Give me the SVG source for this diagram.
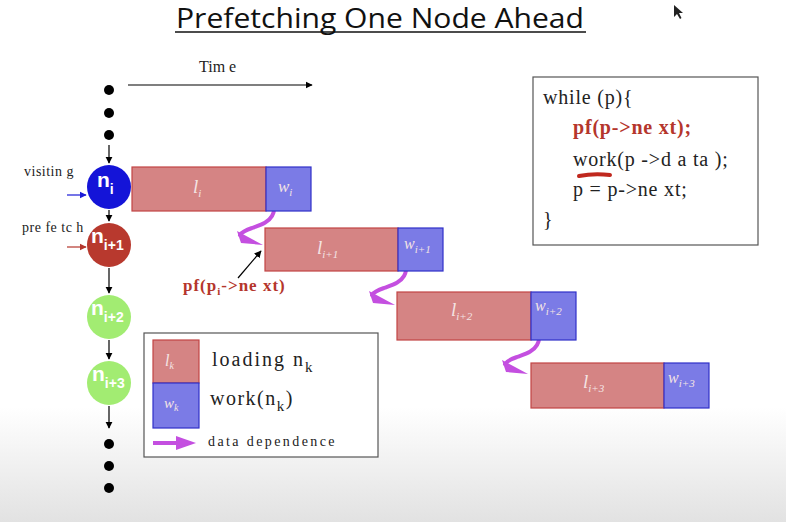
<svg xmlns="http://www.w3.org/2000/svg" width="786" height="522" viewBox="0 0 786 522">
  <defs>
    <linearGradient id="bg" x1="0" y1="0" x2="0" y2="1">
      <stop offset="0" stop-color="#ffffff"/>
      <stop offset="0.78" stop-color="#ffffff"/>
      <stop offset="1" stop-color="#e2e2e2"/>
    </linearGradient>
    <marker id="blk" viewBox="0 0 10 10" refX="9" refY="5" markerWidth="6" markerHeight="6" orient="auto">
      <path d="M0,0 L10,5 L0,10 Z" fill="#000"/>
    </marker>
    <marker id="blueHead" viewBox="0 0 10 10" refX="9" refY="5" markerWidth="6" markerHeight="6" orient="auto">
      <path d="M0,0 L10,5 L0,10 Z" fill="#1a1ad8"/>
    </marker>
    <marker id="redHead" viewBox="0 0 10 10" refX="9" refY="5" markerWidth="6" markerHeight="6" orient="auto">
      <path d="M0,0 L10,5 L0,10 Z" fill="#b5362c"/>
    </marker>
    <!-- purple data-dependence squiggle, origin at the bottom-left corner of a work block -->
    <g id="dep">
      <path d="M1,-12 C8,-8 10,-2 6,5 C2,12 -6,14 -14,17 C-20,19 -24,21 -26,24" fill="none" stroke="#c44fe0" stroke-width="4" stroke-linecap="round"/>
      <path d="M-29,20 L-25,32 L-3,34 Z" fill="#c44fe0"/>
    </g>
  </defs>
  <style>
    .title{font-family:"Open Sans","Liberation Sans",sans-serif;font-size:27px;fill:#111}
    .serif{font-family:"Liberation Serif","DejaVu Serif",serif;fill:#222}
    .code{font-family:"Liberation Serif","DejaVu Serif",serif;font-size:20px;letter-spacing:0.8px;fill:#222}
    .pf{font-family:"Liberation Serif","DejaVu Serif",serif;font-weight:bold;fill:#b5362c}
    .load{fill:#d58484;stroke:#c24444;stroke-width:1.2}
    .work{fill:#7b7be6;stroke:#3030c8;stroke-width:1.2}
    .blk{font-family:"Liberation Serif","DejaVu Serif",serif;font-style:italic;fill:#f4e4e4}
    .node{font-family:"Liberation Sans","DejaVu Sans",sans-serif;font-weight:bold;fill:#fff}
    .dot{fill:#000}
    .link{stroke:#000;stroke-width:1.2;fill:none}
  </style>

  <rect width="786" height="522" fill="url(#bg)"/>

  <!-- heading -->
  <text class="title" x="176" y="28" textLength="408" lengthAdjust="spacingAndGlyphs">Prefetching One Node Ahead</text>
  <line x1="175" y1="32" x2="586" y2="32" stroke="#111" stroke-width="1.6"/>

  <!-- mouse pointer -->
  <path d="M674,5 L674,17 L677,14 L680,19 L681.5,18 L679,13 L683,13 Z" fill="#222"/>

  <!-- time axis -->
  <text class="serif" x="199" y="72" font-size="16">Tim e</text>
  <line x1="128" y1="85" x2="312" y2="85" stroke="#000" stroke-width="1.2" marker-end="url(#blk)"/>

  <!-- list nodes -->
  <g id="dots-top">
    <circle class="dot" cx="109" cy="90" r="5"/>
    <circle class="dot" cx="109" cy="113" r="5"/>
    <circle class="dot" cx="109" cy="135" r="5"/>
  </g>
  <g id="node-i">
    <circle cx="109" cy="187" r="22" fill="#1414d8"/>
    <text class="node" x="97" y="187" font-size="21">n<tspan font-size="14" dy="7">i</tspan></text>
  </g>
  <g id="node-i1">
    <circle cx="109" cy="245" r="22" fill="#b8392e"/>
    <text class="node" x="91" y="243" font-size="21">n<tspan font-size="14" dy="7">i+1</tspan></text>
  </g>
  <g id="node-i2">
    <circle cx="109" cy="317" r="22" fill="#a2ec72"/>
    <text class="node" x="91" y="315" font-size="21">n<tspan font-size="14" dy="7">i+2</tspan></text>
  </g>
  <g id="node-i3">
    <circle cx="109" cy="383" r="22" fill="#a2ec72"/>
    <text class="node" x="92" y="381" font-size="21">n<tspan font-size="14" dy="7">i+3</tspan></text>
  </g>
  <g id="dots-bottom">
    <circle class="dot" cx="109" cy="444" r="5"/>
    <circle class="dot" cx="109" cy="466" r="5"/>
    <circle class="dot" cx="109" cy="488" r="5"/>
  </g>

  <!-- node markers -->
  <text class="serif" x="24" y="176" font-size="14" letter-spacing="0.5">visitin g</text>
  <text class="serif" x="22" y="232" font-size="14" letter-spacing="0.5">pre fe tc h</text>

  <g id="connectors">
    <line class="link" x1="109" y1="145" x2="109" y2="163" marker-end="url(#blk)"/>
    <line class="link" x1="109" y1="210" x2="109" y2="221" marker-end="url(#blk)"/>
    <line class="link" x1="109" y1="268" x2="109" y2="293" marker-end="url(#blk)"/>
    <line class="link" x1="109" y1="340" x2="109" y2="359" marker-end="url(#blk)"/>
    <line class="link" x1="109" y1="406" x2="109" y2="428" marker-end="url(#blk)"/>
    <line x1="67" y1="195" x2="86" y2="195" stroke="#1a1ad8" stroke-width="1.2" marker-end="url(#blueHead)"/>
    <line x1="67" y1="247" x2="86" y2="247" stroke="#b5362c" stroke-width="1.2" marker-end="url(#redHead)"/>
    <line class="link" x1="238" y1="278" x2="261" y2="251" stroke-width="1.6" marker-end="url(#blk)"/>
    <use href="#dep" x="266" y="211"/>
    <use href="#dep" x="398" y="271"/>
    <use href="#dep" x="531" y="340"/>
  </g>

  <!-- timeline blocks -->
  <g id="block-i">
    <rect class="load" x="132" y="167" width="134" height="44"/>
    <rect class="work" x="266" y="167" width="45" height="44"/>
    <text class="blk" x="193" y="193" font-size="19">l<tspan font-size="11" dy="4">i</tspan></text>
    <text class="blk" x="278" y="192" font-size="17">w<tspan font-size="11" dy="4">i</tspan></text>
  </g>
  <g id="block-i1">
    <rect class="load" x="265" y="228" width="133" height="43"/>
    <rect class="work" x="398" y="228" width="45" height="43"/>
    <text class="blk" x="317" y="254" font-size="19">l<tspan font-size="11" dy="4">i+1</tspan></text>
    <text class="blk" x="404" y="249" font-size="16">w<tspan font-size="11" dy="4">i+1</tspan></text>
  </g>
  <g id="block-i2">
    <rect class="load" x="397" y="292" width="134" height="48"/>
    <rect class="work" x="531" y="292" width="45" height="48"/>
    <text class="blk" x="451" y="316" font-size="19">l<tspan font-size="11" dy="4">i+2</tspan></text>
    <text class="blk" x="535" y="311" font-size="16">w<tspan font-size="11" dy="4">i+2</tspan></text>
  </g>
  <g id="block-i3">
    <rect class="load" x="531" y="363" width="133" height="45"/>
    <rect class="work" x="664" y="363" width="45" height="45"/>
    <text class="blk" x="583" y="388" font-size="19">l<tspan font-size="11" dy="4">i+3</tspan></text>
    <text class="blk" x="668" y="383" font-size="16">w<tspan font-size="11" dy="4">i+3</tspan></text>
  </g>

  <!-- prefetch call label -->
  <text class="pf" x="183" y="291" font-size="17" letter-spacing="1">pf(p<tspan font-size="11" dy="4">i</tspan><tspan dy="-4">-&gt;ne xt)</tspan></text>

  <!-- legend -->
  <g id="legend">
    <rect x="144" y="333" width="234" height="124" fill="#fff" stroke="#555" stroke-width="1.2"/>
    <rect class="load" x="153" y="340" width="46" height="43"/>
    <rect class="work" x="153" y="383" width="46" height="45"/>
    <text class="blk" x="165" y="366" font-size="16">l<tspan font-size="10" dy="3">k</tspan></text>
    <text class="blk" x="164" y="408" font-size="15">w<tspan font-size="10" dy="3">k</tspan></text>
    <text class="serif" x="212" y="366" font-size="20" letter-spacing="2">loading n<tspan font-size="15" dy="6">k</tspan></text>
    <text class="serif" x="210" y="405" font-size="20" letter-spacing="1.5">work(n<tspan font-size="15" dy="6">k</tspan><tspan dy="-6">)</tspan></text>
    <line x1="153" y1="443" x2="178" y2="443" stroke="#c44fe0" stroke-width="4"/>
    <path d="M176,436 L196,443 L176,450 Z" fill="#c44fe0"/>
    <text class="serif" x="208" y="446" font-size="14" letter-spacing="2.4">data dependence</text>
  </g>

  <!-- loop source -->
  <g id="code">
    <rect x="533" y="77" width="225" height="168" fill="#fff" stroke="#555" stroke-width="1.2"/>
    <text class="code" x="543" y="104">while (p){</text>
    <text class="pf" x="573" y="134" font-size="20" letter-spacing="0.8">pf(p-&gt;ne xt);</text>
    <text class="code" x="573" y="166">work(p -&gt;d a ta );</text>
    <path d="M579,176 Q594,173 610,175" fill="none" stroke="#c0281e" stroke-width="4" stroke-linecap="round"/>
    <text class="code" x="573" y="196">p = p-&gt;ne xt;</text>
    <text class="code" x="543" y="226">}</text>
  </g>
</svg>
